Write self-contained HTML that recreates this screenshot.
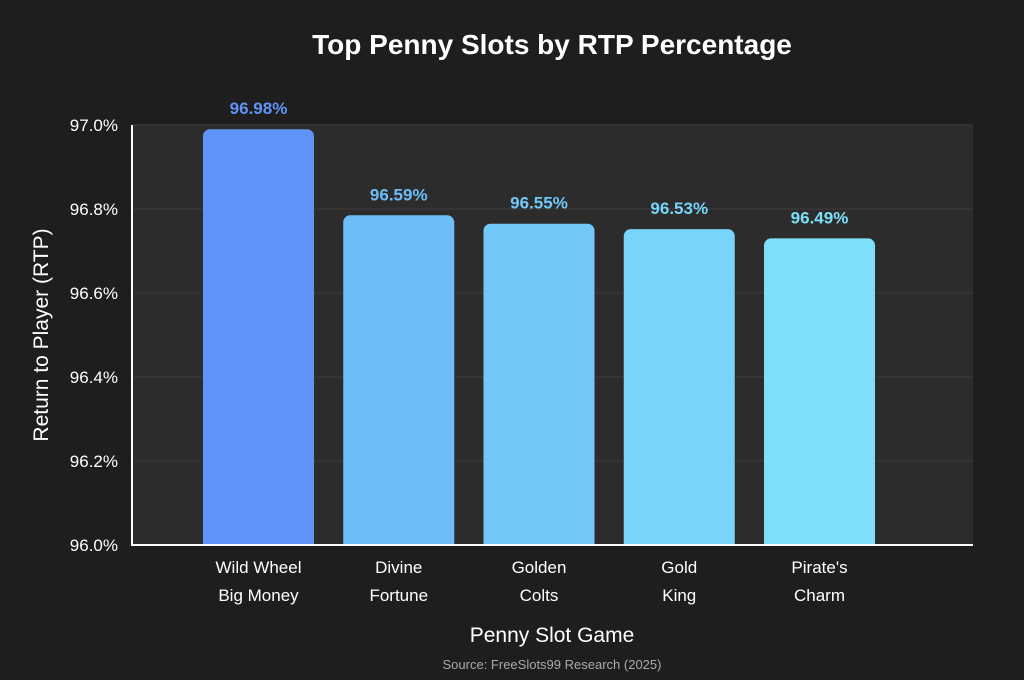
<!DOCTYPE html>
<html><head><meta charset="utf-8"><style>
body{margin:0;background:#1e1e1e;}
svg{display:block;font-family:"Liberation Sans",Arial,sans-serif;}
</style></head><body>
<svg width="1024" height="680">
<rect width="1024" height="680" fill="#1e1e1e"/>
<text x="552" y="54" text-anchor="middle" fill="#fff" font-size="28" font-weight="bold">Top Penny Slots by RTP Percentage</text>
<rect x="132" y="125" width="841" height="419" fill="#2c2c2c"/>
<g id="grid"></g><g id="bars"></g>
<line x1="132" y1="125" x2="132" y2="545" stroke="#fff" stroke-width="2"/>
<line x1="131" y1="545" x2="973" y2="545" stroke="#fff" stroke-width="2"/>
<text transform="translate(48,335) rotate(-90)" text-anchor="middle" fill="#fff" font-size="21">Return to Player (RTP)</text>
<text x="552" y="642" text-anchor="middle" fill="#fff" font-size="21">Penny Slot Game</text>
<text x="552" y="669" text-anchor="middle" fill="#aaa" font-size="13">Source: FreeSlots99 Research (2025)</text>
</svg>
<script>
const categories=[["Wild Wheel","Big Money"],["Divine","Fortune"],["Golden","Colts"],["Gold","King"],["Pirate's","Charm"]];
const barValues=[96.99,96.785,96.765,96.752,96.73];
const valueLabels=["96.98%","96.59%","96.55%","96.53%","96.49%"];
const yTicks=[96.0,96.2,96.4,96.6,96.8,97.0];
const colors=["#5f93f8","#6dbdf8","#72c8f8","#78d4f8","#7ee0f8"];
const NS="http://www.w3.org/2000/svg";
const y=v=>545-(v-96)/1.0*420;
const xc=i=>258.5+i*140.25;
function mk(t,a,p){const e=document.createElementNS(NS,t);for(const k in a)e.setAttribute(k,a[k]);p.appendChild(e);return e;}
const g=document.getElementById('grid'),b=document.getElementById('bars'),svg=document.querySelector('svg');
yTicks.forEach(v=>{
 if(v>96){const l=mk('line',{x1:132,x2:973,y1:y(v),y2:y(v),stroke:'#3d3d3d','stroke-width':1},g);
 
 }
 const t=mk('text',{x:118,y:y(v)+6,'text-anchor':'end',fill:'#fff','font-size':17},svg);
 t.textContent=v.toFixed(1)+'%';
 
 
});
barValues.forEach((v,i)=>{
 const top=y(v);
 const r=mk('rect',{x:xc(i)-55.5,y:top,width:111,height:545-top+6,rx:7,fill:colors[i]},b);
 
 
 const t=mk('text',{x:xc(i),y:top-15,'text-anchor':'middle',fill:colors[i],'font-size':17,'font-weight':'bold'},svg);
 t.textContent=valueLabels[i];
 
 
 categories[i].forEach((s,j)=>{
  const c=mk('text',{x:xc(i),y:573+j*28,'text-anchor':'middle',fill:'#fff','font-size':17},svg);
  c.textContent=s;
  
  
 });
});
// cover bottom rounding below axis
const cv=mk('rect',{x:133,y:546,width:840,height:8,fill:'#1e1e1e'},svg);


</script>
</body></html>
